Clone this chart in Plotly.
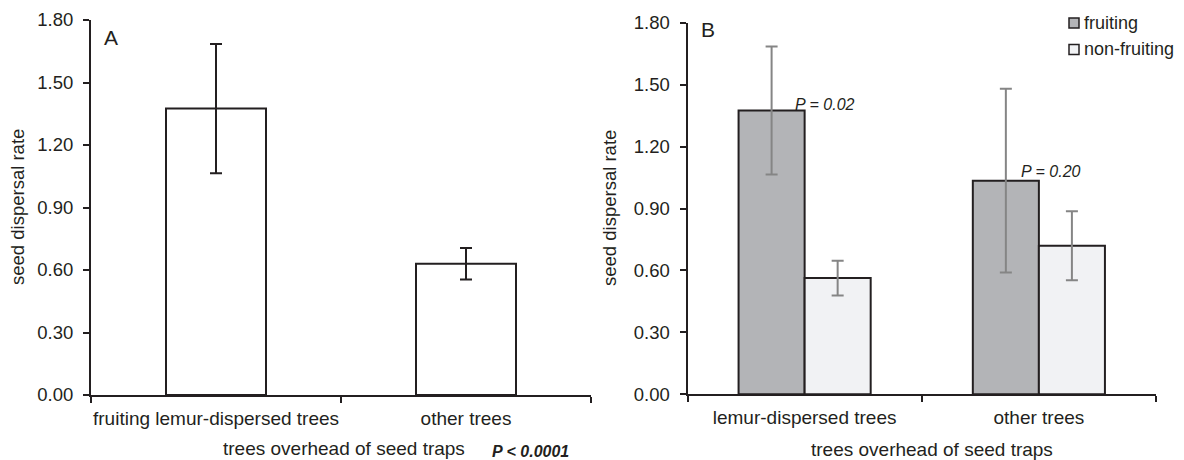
import plotly.graph_objects as go

# ---- data ----
cats_a = ["fruiting lemur-dispersed trees", "other trees"]
rate_a = [1.375, 0.630]
err_a = [0.310, 0.076]

cats_b = ["lemur-dispersed trees", "other trees"]
series_b = ["fruiting", "non-fruiting"]
fruiting = [1.375, 1.035]
fruiting_err = [0.310, 0.445]
nonfruiting = [0.563, 0.720]
nonfruiting_err = [0.084, 0.167]

y_ticks = [0.0, 0.3, 0.6, 0.9, 1.2, 1.5, 1.8]
p_a = "P < 0.0001"
p_b = ["P = 0.02", "P = 0.20"]

# ---- style ----
INK = "#231f20"
FONT = "Liberation Sans, Arial, sans-serif"
W, H = 1184, 460
FRUIT_FILL = "#b3b4b7"
NONFRUIT_FILL = "#f1f2f4"
ERR_B = "#858585"

def px(x):
    return x / W

def py(y):
    return (H - y) / H

fig = go.Figure()

fig.add_trace(go.Bar(
    x=cats_a, y=rate_a, xaxis="x", yaxis="y",
    width=0.4, offset=-0.2,
    marker=dict(color="white", line=dict(color=INK, width=2)),
    error_y=dict(type="data", array=err_a, visible=True, color=INK, thickness=2, width=6),
    showlegend=False,
))

fig.add_trace(go.Bar(
    x=cats_b, y=fruiting, xaxis="x2", yaxis="y2", name=series_b[0],
    width=0.282, offset=-0.282,
    marker=dict(color=FRUIT_FILL, line=dict(color=INK, width=2)),
    error_y=dict(type="data", array=fruiting_err, visible=True, color=ERR_B, thickness=2, width=6),
    showlegend=False,
))
fig.add_trace(go.Bar(
    x=cats_b, y=nonfruiting, xaxis="x2", yaxis="y2", name=series_b[1],
    width=0.282, offset=0.0,
    marker=dict(color=NONFRUIT_FILL, line=dict(color=INK, width=2)),
    error_y=dict(type="data", array=nonfruiting_err, visible=True, color=ERR_B, thickness=2, width=6),
    showlegend=False,
))

xcommon = dict(
    type="category", showline=True, linecolor=INK, linewidth=2,
    ticks="outside", tickson="boundaries", ticklen=6, tickwidth=1.5, tickcolor=INK,
    showgrid=False, zeroline=False, automargin=False, tickangle=0,
    tickfont=dict(family=FONT, size=19, color=INK), ticklabelstandoff=5,
)
ycommon = dict(
    range=[0, 1.8], tickvals=y_ticks, tickformat=".2f", showline=True, linecolor=INK,
    linewidth=2, ticks="outside", ticklen=6, tickwidth=1.5, tickcolor=INK,
    showgrid=False, zeroline=False, automargin=False,
    tickfont=dict(family=FONT, size=18.5, color=INK), ticklabelstandoff=6,
)

fig.update_layout(
    width=W, height=H,
    margin=dict(l=0, r=0, t=0, b=0),
    paper_bgcolor="white", plot_bgcolor="white",
    barmode="group",
    font=dict(family=FONT, color=INK),
    xaxis=dict(domain=[px(91), px(591)], anchor="y", **xcommon),
    yaxis=dict(domain=[py(395), py(20)], anchor="x", **ycommon),
    xaxis2=dict(domain=[px(687.5), px(1156)], anchor="y2", **xcommon),
    yaxis2=dict(domain=[py(394.3), py(22.7)], anchor="x2", **ycommon),
)

ann = []
# y titles
ann.append(dict(text="seed dispersal rate", x=px(18), y=py(207), xref="paper", yref="paper",
                textangle=-90, showarrow=False, xanchor="center", yanchor="middle",
                font=dict(family=FONT, size=18.5, color=INK)))
ann.append(dict(text="seed dispersal rate", x=px(609), y=py(208), xref="paper", yref="paper",
                textangle=-90, showarrow=False, xanchor="center", yanchor="middle",
                font=dict(family=FONT, size=18.5, color=INK)))
# x titles
ann.append(dict(text="trees overhead of seed traps", x=px(344), y=py(448), xref="paper", yref="paper",
                showarrow=False, xanchor="center", yanchor="middle",
                font=dict(family=FONT, size=19, color=INK)))
ann.append(dict(text="trees overhead of seed traps", x=px(932), y=py(449), xref="paper", yref="paper",
                showarrow=False, xanchor="center", yanchor="middle",
                font=dict(family=FONT, size=19, color=INK)))
# P values
ann.append(dict(text="<b><i>" + p_a + "</i></b>", x=px(490), y=py(451), xref="paper", yref="paper",
                showarrow=False, xanchor="left", yanchor="middle",
                font=dict(family=FONT, size=16, color=INK)))
ann.append(dict(text="<i>" + p_b[0] + "</i>", x=px(793), y=py(104), xref="paper", yref="paper",
                showarrow=False, xanchor="left", yanchor="middle",
                font=dict(family=FONT, size=16, color=INK)))
ann.append(dict(text="<i>" + p_b[1] + "</i>", x=px(1019), y=py(172), xref="paper", yref="paper",
                showarrow=False, xanchor="left", yanchor="middle",
                font=dict(family=FONT, size=16, color=INK)))
# panel letters
ann.append(dict(text="A", x=px(102), y=py(38), xref="paper", yref="paper",
                showarrow=False, xanchor="left", yanchor="middle",
                font=dict(family=FONT, size=21, color=INK)))
ann.append(dict(text="B", x=px(699), y=py(30), xref="paper", yref="paper",
                showarrow=False, xanchor="left", yanchor="middle",
                font=dict(family=FONT, size=21, color=INK)))

# manual legend
shapes = []
leg_y = [23, 49.5]
leg_fill = [FRUIT_FILL, NONFRUIT_FILL]
for name, yc, fill in zip(series_b, leg_y, leg_fill):
    shapes.append(dict(type="rect", xref="paper", yref="paper",
                       x0=px(1069), x1=px(1079), y0=py(yc + 5), y1=py(yc - 5),
                       fillcolor=fill, line=dict(color=INK, width=1.5)))
    ann.append(dict(text=name, x=px(1082), y=py(yc), xref="paper", yref="paper",
                    showarrow=False, xanchor="left", yanchor="middle",
                    font=dict(family=FONT, size=18, color=INK)))

fig.update_layout(annotations=ann, shapes=shapes)
fig.write_html(
    "out.html",
    config={"displayModeBar": False},
    post_script="document.body.style.margin='0';document.body.style.padding='0';"
                "document.body.style.overflow='hidden';",
)
